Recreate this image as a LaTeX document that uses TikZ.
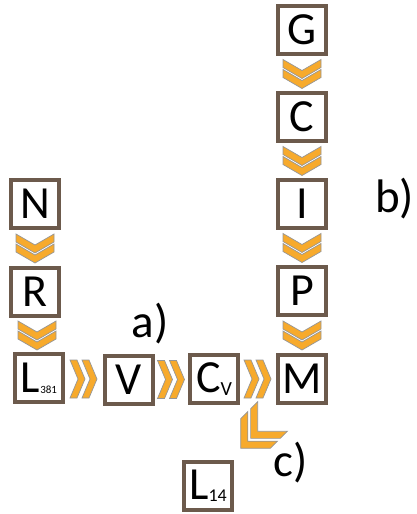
\documentclass[tikz,border=0pt]{standalone}
\usepackage{fontspec}
\setmainfont{Carlito}
\usetikzlibrary{calc}
\definecolor{frame}{RGB}{108,90,76}
\definecolor{chevor}{RGB}{247,170,44}
\definecolor{chevline}{RGB}{150,150,150}
\tikzset{
  box/.style={draw=frame, line width=3.2pt, fill=white, minimum width=48pt, minimum height=48pt, inner sep=0pt, font=\fontsize{46}{46}\selectfont},
  lab/.style={font=\fontsize{47}{47}\selectfont, inner sep=0pt},
  chevpart/.style={fill=chevor, draw=chevline, line width=0.7pt, line join=miter},
  chev/.pic={
    \foreach \a in {-14,-2}{
      \path[chevpart] (\a,-19) -- (\a+7,-19) -- (\a+15,0) -- (\a+7,19) -- (\a,19) -- (\a+8,0) -- cycle;
    }
  },
  dchev/.pic={
    \foreach \a in {-14,-4}{
      \path[chevpart] (\a,-19) -- (\a+8,-19) -- (\a+19,0) -- (\a+8,19) -- (\a,19) -- (\a+11,0) -- cycle;
    }
  },
  bigchev/.pic={
    \foreach \a in {-22,-8}{
      \path[chevpart] (\a,-21) -- (\a+10,-21) -- (\a+31,0) -- (\a+10,21) -- (\a,21) -- (\a+21,0) -- cycle;
    }
  }
}
\begin{document}
\begin{tikzpicture}[x=1pt,y=-1pt]
\useasboundingbox (0,0) rectangle (416,514);
% boxes
\node[box] (N) at (35,204) {N};
\node[box] (R) at (35,292) {R};
\node[box] (L) at (39,378) {L\raisebox{-1pt}{\fontsize{11}{11}\selectfont 381}};
\node[box] (V) at (129,380) {V};
\node[box] (Cv) at (214,379) {C\raisebox{-3pt}{\fontsize{20}{20}\selectfont V}};
\node[box] (M) at (302,379) {M};
\node[box] (P) at (302,291) {P};
\node[box] (I) at (302,204) {I};
\node[box] (C) at (302,117) {C};
\node[box] (G) at (302,30) {G};
\node[box] (L14) at (208,486) {L\raisebox{-2pt}{\fontsize{18}{18}\selectfont 14}};
% chevrons
\pic[rotate=-90] at ($(N.south)!0.5!(R.north)$) {dchev};
\pic[rotate=-90] at ($(R.south)!0.5!(L.north)$) {dchev};
\pic at ($(L.east)!0.5!(V.west)$) {chev};
\pic at ($(V.east)!0.5!(Cv.west)$) {chev};
\pic at ($(Cv.east)!0.5!(M.west)$) {chev};
\pic[rotate=-90] at ($(G.south)!0.5!(C.north)$) {dchev};
\pic[rotate=-90] at ($(C.south)!0.5!(I.north)$) {dchev};
\pic[rotate=-90] at ($(I.south)!0.5!(P.north)$) {dchev};
\pic[rotate=-90] at ($(P.south)!0.5!(M.north)$) {dchev};
\coordinate (cc) at (257,432);
\pic[rotate=-135] at (cc) {bigchev};
% labels
\node[lab] (la) at (150,324) {a)};
\node[lab, anchor=west] (lb) at (375,199) {b)};
\node[lab] (lc) at (291,463) {c)};
\end{tikzpicture}
\end{document}
